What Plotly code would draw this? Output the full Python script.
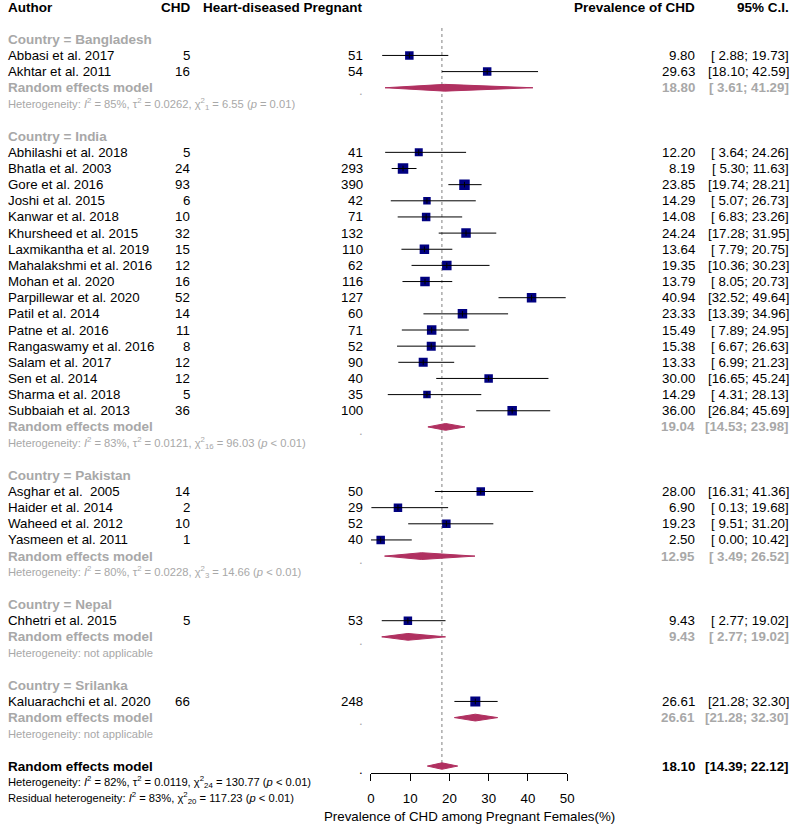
import plotly.graph_objects as go

# ---------------- data ----------------
study_author = [
    "Abbasi et al. 2017", "Akhtar et al. 2011",
    "Abhilashi et al. 2018", "Bhatla et al. 2003", "Gore et al. 2016", "Joshi et al. 2015",
    "Kanwar et al. 2018", "Khursheed et al. 2015", "Laxmikantha et al. 2019",
    "Mahalakshmi et al. 2016", "Mohan et al. 2020", "Parpillewar et al. 2020",
    "Patil et al. 2014", "Patne et al. 2016", "Rangaswamy et al. 2016", "Salam et al. 2017",
    "Sen et al. 2014", "Sharma et al. 2018", "Subbaiah et al. 2013",
    "Asghar et al.  2005", "Haider et al. 2014", "Waheed et al. 2012", "Yasmeen et al. 2011",
    "Chhetri et al. 2015",
    "Kaluarachchi et al. 2020",
]
study_country = (["Bangladesh"] * 2 + ["India"] * 17 + ["Pakistan"] * 4
                 + ["Nepal"] + ["Srilanka"])
study_chd = [5, 16,
             5, 24, 93, 6, 10, 32, 15, 12, 16, 52, 14, 11, 8, 12, 12, 5, 36,
             14, 2, 10, 1,
             5,
             66]
study_n = [51, 54,
           41, 293, 390, 42, 71, 132, 110, 62, 116, 127, 60, 71, 52, 90, 40, 35, 100,
           50, 29, 52, 40,
           53,
           248]
study_prev = [9.80, 29.63,
              12.20, 8.19, 23.85, 14.29, 14.08, 24.24, 13.64, 19.35, 13.79, 40.94, 23.33,
              15.49, 15.38, 13.33, 30.00, 14.29, 36.00,
              28.00, 6.90, 19.23, 2.50,
              9.43,
              26.61]
study_lo = [2.88, 18.10,
            3.64, 5.30, 19.74, 5.07, 6.83, 17.28, 7.79, 10.36, 8.05, 32.52, 13.39,
            7.89, 6.67, 6.99, 16.65, 4.31, 26.84,
            16.31, 0.13, 9.51, 0.00,
            2.77,
            21.28]
study_hi = [19.73, 42.59,
            24.26, 11.63, 28.21, 26.73, 23.26, 31.95, 20.75, 30.23, 20.73, 49.64, 34.96,
            24.95, 26.63, 21.23, 45.24, 28.13, 45.69,
            41.36, 19.68, 31.20, 10.42,
            19.02,
            32.30]

group_names = ["Bangladesh", "India", "Pakistan", "Nepal", "Srilanka"]
group_prev = [18.80, 19.04, 12.95, 9.43, 26.61]
group_lo = [3.61, 14.53, 3.49, 2.77, 21.28]
group_hi = [41.29, 23.98, 26.52, 19.02, 32.30]
group_i2 = [85, 83, 80, None, None]
group_tau2 = ["0.0262", "0.0121", "0.0228", None, None]
group_df = [1, 16, 3, None, None]
group_q = ["6.55", "96.03", "14.66", None, None]
group_p = ["= 0.01", "< 0.01", "< 0.01", None, None]

overall_prev, overall_lo, overall_hi = 18.10, 14.39, 22.12
overall_het = dict(i2=82, tau2="0.0119", df=24, q="130.77", p="< 0.01")
resid_het = dict(i2=83, df=20, q="117.23", p="< 0.01")

col_headers = ["Author", "CHD", "Heart-diseased Pregnant", "Prevalence of CHD", "95% C.I."]
x_ticks = [0, 10, 20, 30, 40, 50]
x_title = "Prevalence of CHD among Pregnant Females(%)"

# square sizes (weights, pixels)
square_px = [8.5, 8.5,
             8, 10.5, 10.5, 7.5, 8.5, 9.5, 9.5, 9.5, 9.5, 9.5, 9.5, 9.5, 9, 9, 8.5, 7.5, 9.5,
             8.5, 8.5, 8.5, 8.5,
             8.5,
             10]

# ---------------- layout constants ----------------
W, H = 798, 824
X0PX, X50PX = 372, 571
ROW0, ROWH = 7, 16.15
AXIS_Y = 773
FONT = "Liberation Sans, Arial, sans-serif"
GRAY = "#A8A8A8"
NAVY = "#000080"
MAROON = "#B03060"
FS = 13.3
FS_SMALL = 11.2

COL_AUTHOR, COL_CHD, COL_N, COL_PREV, COL_CI = 3, 190, 365, 702, 797

annotations = []


def txt(xpx, row, s, anchor="left", color="black", size=FS, bold=False):
    if bold:
        s = "<b>" + s + "</b>"
    annotations.append(dict(
        x=xpx / W, xref="paper", y=row, yref="y", text=s, showarrow=False,
        xanchor=anchor, yanchor="middle", borderpad=0,
        font=dict(family=FONT, size=size, color=color)))


def ci_text(lo, hi):
    return f"[{lo:5.2f}; {hi:5.2f}]"


def het_text(i2, tau2, df, q, p, resid=False):
    s = ("Residual heterogeneity: " if resid else "Heterogeneity: ")
    s += f"<i>I</i><sup>2</sup> = {i2}%, "
    if tau2 is not None:
        s += f"τ<sup>2</sup> = {tau2}, "
    s += f"χ<sup>2</sup><sub>{df}</sub> = {q} (<i>p</i> {p})"
    return s


# headers
txt(COL_AUTHOR, 0, col_headers[0], size=13.5, bold=True)
txt(COL_CHD, 0, col_headers[1], "right", size=13.5, bold=True)
txt(COL_N, 0, col_headers[2], "right", size=13.5, bold=True)
txt(COL_PREV, 0, col_headers[3], "right", size=13.5, bold=True)
txt(COL_CI, 0, col_headers[4], "right", size=13.5, bold=True)

sq_x, sq_y, sq_s = [], [], []
line_x, line_y = [], []
diamonds = []

row = 2
for gi, g in enumerate(group_names):
    txt(COL_AUTHOR, row, f"Country = {g}", color=GRAY, size=13.5, bold=True)
    row += 1
    for si in range(len(study_author)):
        if study_country[si] != g:
            continue
        txt(COL_AUTHOR, row, study_author[si])
        txt(COL_CHD, row, str(study_chd[si]), "right")
        txt(COL_N, row, str(study_n[si]), "right")
        txt(COL_PREV, row, f"{study_prev[si]:.2f}", "right")
        txt(COL_CI, row, ci_text(study_lo[si], study_hi[si]), "right")
        sq_x.append(study_prev[si]); sq_y.append(row); sq_s.append(square_px[si])
        line_x += [study_lo[si], study_hi[si], None]
        line_y += [row, row, None]
        row += 1
    # subgroup random effects
    txt(COL_AUTHOR, row, "Random effects model", color=GRAY, size=13.5, bold=True)
    txt(COL_N, row + 0.2, ".", "right", color=GRAY)
    txt(COL_PREV, row, f"{group_prev[gi]:.2f}", "right", color=GRAY, bold=True)
    txt(COL_CI, row, ci_text(group_lo[gi], group_hi[gi]), "right", color=GRAY, bold=True)
    diamonds.append((group_lo[gi], group_prev[gi], group_hi[gi], row, 0.21))
    row += 1
    if group_i2[gi] is None:
        htxt = "Heterogeneity: not applicable"
    else:
        htxt = het_text(group_i2[gi], group_tau2[gi], group_df[gi], group_q[gi], group_p[gi])
    txt(COL_AUTHOR, row, htxt, color=GRAY, size=FS_SMALL)
    row += 2

# overall
overall_row = row
txt(COL_AUTHOR, row, "Random effects model", size=13.5, bold=True)
txt(COL_N, row + 0.2, ".", "right")
txt(COL_PREV, row, f"{overall_prev:.2f}", "right", bold=True)
txt(COL_CI, row, ci_text(overall_lo, overall_hi), "right", bold=True)
diamonds.append((overall_lo, overall_prev, overall_hi, row, 0.2))
txt(COL_AUTHOR, row + 1, het_text(**overall_het), size=FS_SMALL)
txt(COL_AUTHOR, row + 2, het_text(resid_het["i2"], None, resid_het["df"], resid_het["q"],
                                  resid_het["p"], resid=True), size=FS_SMALL)

# axis title
annotations.append(dict(x=(X0PX + X50PX) / 2 / W, xref="paper", y=1 - 816 / H, yref="paper",
                        text=x_title, showarrow=False, xanchor="center", yanchor="middle",
                        font=dict(family=FONT, size=FS, color="black")))

fig = go.Figure()

# diamonds
for lo, est, hi, r, h in diamonds:
    fig.add_trace(go.Scatter(
        x=[lo, est, hi, est, lo], y=[r, r - h, r, r + h, r], mode="lines",
        fill="toself", fillcolor=MAROON, line=dict(color=MAROON, width=1),
        hoverinfo="skip", showlegend=False))

# squares
fig.add_trace(go.Scatter(
    x=sq_x, y=sq_y, mode="markers",
    marker=dict(symbol="square", size=sq_s, color=NAVY, opacity=1,
                line=dict(color=NAVY, width=0)),
    showlegend=False, hoverinfo="skip"))
# CI lines
fig.add_trace(go.Scatter(
    x=line_x, y=line_y, mode="lines", line=dict(color="black", width=1),
    showlegend=False, hoverinfo="skip"))
# inner ticks
fig.add_trace(go.Scatter(
    x=sq_x, y=sq_y, mode="markers",
    marker=dict(symbol="line-ns", size=4, color="black", line=dict(color="black", width=1)),
    showlegend=False, hoverinfo="skip"))

# reference dotted line at overall estimate
row_top = (28 - ROW0) / ROWH
fig.add_shape(type="line", xref="x", yref="y", x0=overall_prev, x1=overall_prev,
              y0=row_top, y1=overall_row, line=dict(color="#808080", width=1, dash="dot"),
              layer="below")

y_top = -ROW0 / ROWH
y_bot = (H - ROW0) / ROWH

fig.update_layout(
    width=W, height=H, autosize=False,
    margin=dict(l=0, r=0, t=0, b=0),
    paper_bgcolor="white", plot_bgcolor="white",
    annotations=annotations,
    xaxis=dict(domain=[X0PX / W, X50PX / W], range=[0, 50], showgrid=False, zeroline=False,
               showline=True, linecolor="black", linewidth=1, ticks="outside", ticklen=7,
               tickwidth=1, tickcolor="black", tickvals=x_ticks,
               tickfont=dict(family=FONT, size=FS, color="black"),
               anchor="free", position=1 - AXIS_Y / H, ticklabelstandoff=6),
    yaxis=dict(domain=[0, 1], range=[y_bot, y_top], visible=False, showgrid=False,
               zeroline=False),
)

fig.write_html(
    "out.html",
    config={"displayModeBar": False},
    post_script="document.body.style.margin='0';document.body.style.padding='0';"
                "document.body.style.overflow='hidden';",
)
